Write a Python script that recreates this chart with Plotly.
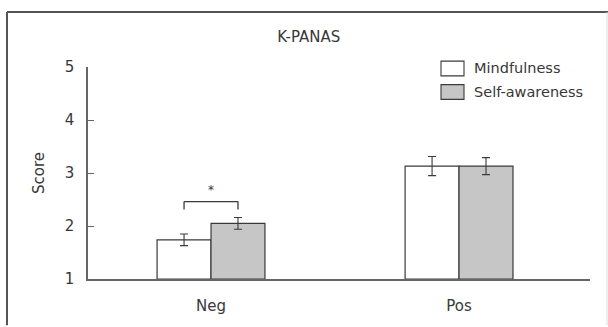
import plotly.graph_objects as go

categories = ["Neg", "Pos"]
series_names = ["Mindfulness", "Self-awareness"]
mindfulness = [1.74, 3.13]
mindfulness_err = [0.11, 0.18]
self_awareness = [2.05, 3.13]
self_awareness_err = [0.11, 0.16]
y_ticks = [1, 2, 3, 4, 5]
title_text = "K-PANAS"
y_title = "Score"
sig_label = "*"

W, H = 608, 327
L, R, T, B = 88, 18, 67, 44
bargap = 0.565
fills = ["#ffffff", "#c6c6c6"]
line_col = "#3a3a3a"
text_col = "#383838"
font_family = "DejaVu Sans"

fig = go.Figure()
for name, vals, errs, fc in [(series_names[0], mindfulness, mindfulness_err, fills[0]),
                             (series_names[1], self_awareness, self_awareness_err, fills[1])]:
    fig.add_trace(go.Bar(
        x=categories, y=[v - 1 for v in vals], base=1, name=name,
        marker=dict(color=fc, line=dict(color=line_col, width=1.2)),
        error_y=dict(type="data", array=errs, color=line_col, thickness=1.1, width=4),
        showlegend=False,
    ))

# significance bracket between Neg bars
half = (1 - bargap) / 4
x0, x1 = 0 - half, 0 + half
yb_top, yb_bot = 2.46, 2.31
for xa, ya, xb, yb in [(x0, yb_bot, x0, yb_top), (x0, yb_top, x1, yb_top), (x1, yb_top, x1, yb_bot)]:
    fig.add_shape(type="line", xref="x", yref="y", x0=xa, y0=ya, x1=xb, y1=yb,
                  line=dict(color=line_col, width=1.3))
fig.add_annotation(x=0.5 * (x0 + x1), y=2.67, xref="x", yref="y", text=sig_label,
                   showarrow=False, font=dict(size=12, color=text_col, family=font_family))

# custom legend
pw = W - L - R
ph = H - T - B
def px(x):
    return (x - L) / pw
def py(y):
    return (H - B - y) / ph
for i, (name, fc) in enumerate(zip(series_names, fills)):
    top = 61 + 24 * i
    fig.add_shape(type="rect", xref="paper", yref="paper",
                  x0=px(441), x1=px(464), y0=py(top + 15), y1=py(top),
                  fillcolor=fc, line=dict(color=line_col, width=1.1))
    fig.add_annotation(xref="paper", yref="paper", x=px(472), y=py(top + 7.5),
                       xanchor="left", yanchor="middle", text=name, showarrow=False,
                       font=dict(size=14.5, color=text_col, family=font_family))

# outer frame (top and left)
fig.add_shape(type="line", xref="paper", yref="paper", x0=px(7), x1=px(608), y0=py(11), y1=py(11),
              line=dict(color="#555555", width=2))
fig.add_shape(type="line", xref="paper", yref="paper", x0=px(7), x1=px(7), y0=py(11), y1=py(330),
              line=dict(color="#555555", width=2))
fig.add_shape(type="line", xref="paper", yref="paper", x0=px(607), x1=px(607), y0=py(11), y1=py(330),
              line=dict(color="#dddddd", width=1))

fig.update_layout(
    width=W, height=H,
    margin=dict(l=L, r=R, t=T, b=B, pad=0),
    paper_bgcolor="white", plot_bgcolor="white",
    barmode="group", bargap=bargap, bargroupgap=0,
    font=dict(family=font_family, color=text_col, size=14),
    title=dict(text=title_text, x=px(343), xanchor="center", y=1 - 37 / H, yanchor="middle",
               font=dict(size=15, color=text_col, family=font_family)),
)
fig.update_xaxes(
    type="category", range=[-0.496, 1.528], showline=True, linecolor="#666666", linewidth=1.5,
    ticks="", showgrid=False, zeroline=False, ticklabelstandoff=12,
    tickfont=dict(size=15, color=text_col),
)
fig.update_yaxes(
    range=[1, 5], tickvals=y_ticks, showline=True, linecolor="#666666", linewidth=1.5,
    ticks="inside", ticklen=6, tickcolor="#666666", tickwidth=1.2, showgrid=False, zeroline=False,
    ticklabelstandoff=9, tickfont=dict(size=15, color=text_col),
    title=dict(text=y_title, standoff=16, font=dict(size=15, color=text_col)),
)

fig.write_html("out.html", config={"displayModeBar": False},
               post_script="document.body.style.margin='0';document.body.style.padding='0';")
